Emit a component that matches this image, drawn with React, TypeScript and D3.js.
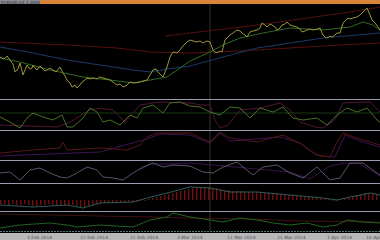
import React from "react";
import * as d3 from "d3";

const W = 380, H = 240;

// Main panel series: [bar, value]
const price: [number, number][] = [[0,42],[4,40],[7,43],[10,39],[13,35],[15,27],[18,30],[20,36],[23,24],[25,29],[27,34],[30,30],[32,31],[33,34],[35,31],[37,29],[40,33],[42,31],[45,28],[47,29],[50,31],[53,29],[56,27],[60,32],[63,26],[65,23],[67,19],[70,16],[72,12],[75,14],[77,11],[80,14],[82,17],[85,19],[87,21],[90,20],[93,21],[97,20],[100,22],[103,21],[107,20],[110,19],[113,17],[117,14],[120,15],[123,12],[127,14],[130,17],[135,16],[140,17],[143,18],[147,19],[150,24],[153,29],[156,30],[158,27],[160,25],[163,22],[167,32],[170,42],[173,47],[177,46],[180,49],[182,52],[185,55],[187,57],[190,59],[193,58],[197,57],[200,58],[203,56],[207,58],[210,57],[213,49],[215,47],[217,46],[220,48],[222,47],[225,59],[228,62],[230,64],[233,66],[237,69],[240,68],[242,66],[245,64],[247,62],[250,67],[253,68],[257,69],[260,71],[262,76],[265,74],[267,72],[270,75],[272,74],[275,72],[277,69],[280,71],[282,74],[285,75],[287,77],[290,74],[293,73],[297,72],[300,70],[302,67],[305,68],[307,69],[310,70],[313,69],[317,70],[320,71],[323,64],[325,62],[327,61],[330,63],[332,62],[335,64],[337,66],[340,66],[343,76],[345,78],[348,81],[350,80],[353,81],[357,82],[360,84],[362,86],[365,89],[367,91],[370,84],[372,79],[375,76],[378,72],[380,69]];
const maFast: [number, number][] = [[0,41],[20,37],[50,29],[83,22],[110,19],[133,16],[150,19],[167,22],[180,31],[190,38],[210,47],[223,54],[240,61],[263,66],[290,71],[323,69],[350,72],[363,77],[373,74],[380,69]];
const maSlow: [number, number][] = [[0,52],[33,46],[67,39],[100,34],[133,29],[150,27],[167,30],[190,33],[223,42],[257,51],[290,56],[323,61],[357,64],[380,66]];
const redMid: [number, number][] = [[0,57],[67,54],[117,51],[150,47],[190,46],[240,48],[290,51],[340,54],[380,56]];
const redUpper: [number, number][] = [[165,63],[190,66],[250,73],[300,80],[350,87],[380,92]];

// Panel 2
const osc1: [number, number][] = [[0,13],[10,8],[20,2],[27,12],[33,17],[43,13],[53,10],[62,15],[67,3],[73,3],[83,12],[90,22],[97,18],[103,8],[110,10],[120,5],[130,15],[137,12],[143,22],[153,25],[163,17],[170,27],[180,28],[190,24],[200,23],[210,18],[220,15],[230,23],[240,22],[250,12],[260,22],[273,18],[283,23],[293,12],[303,10],[317,12],[327,5],[337,15],[347,22],[357,18],[367,22],[377,10],[380,8]];
const osc2: [number, number][] = [[0,5],[30,4],[57,3],[70,8],[90,20],[100,22],[113,20],[125,8],[140,25],[160,28],[190,27],[200,25],[210,25],[215,10],[220,2],[228,5],[240,20],[260,22],[280,27],[290,20],[300,8],[315,3],[323,2],[335,10],[343,27],[360,28],[370,28],[380,18]];
const osc1Level = 17;

// Panel 3
const p3red: [number, number][] = [[0,8],[33,11],[60,13],[63,19],[67,11],[100,13],[127,11],[140,16],[147,24],[157,28],[190,28],[210,19],[220,29],[230,23],[257,19],[283,26],[303,16],[317,6],[330,4],[337,19],[343,28],[357,23],[380,16]];
const p3purple: [number, number][] = [[0,5],[100,9],[147,22],[160,27],[190,26],[210,18],[220,28],[230,20],[280,24],[300,18],[310,10],[320,5],[335,4],[345,26],[360,20],[380,14]];

// Panel 4
const p4grey: [number, number][] = [[0,11],[10,12],[20,4],[30,14],[40,16],[50,11],[60,7],[67,6],[77,11],[87,17],[97,14],[103,7],[113,6],[123,4],[133,11],[143,17],[153,21],[163,17],[173,19],[190,18],[203,12],[213,11],[223,17],[237,22],[253,9],[263,17],[277,19],[290,11],[303,6],[317,17],[330,4],[340,6],[350,21],[363,21],[377,11],[380,9]];
const p4purple: [number, number][] = [[140,14],[150,20],[165,20],[190,21],[290,12],[310,5],[330,18],[345,21],[360,20],[380,8]];

// Panel 5 (histogram every 4 bars)
const hist: number[] = [-4,-4,-5,-4,-5,-5,-4,-5,-6,-6,-5,-5,-4,-5,-5,-6,-6,-5,-5,-6,-7,-7,-6,-5,-4,-4,-3,-3,-3,-3,-3,-2,-2,-2,-2,-1,0,1,2,3,4,5,6,7,8,9,10,11,12,12,13,13,13,12,12,11,10,10,9,9,9,8,8,8,8,8,7,7,7,6,6,5,5,5,4,4,3,3,3,2,2,1,1,0,0,1,2,3,4,5,6,7,7,6,6,5];
const signal: [number, number][] = [[0,-5],[33,-7],[67,-5],[83,-8],[100,-3],[133,-2],[147,2],[167,7],[190,13],[210,12],[230,8],[257,8],[290,5],[323,2],[337,0],[350,3],[370,7],[380,5]];

// Panel 6
const p6green: [number, number][] = [[0,2],[20,5],[50,7],[67,5],[77,3],[100,5],[133,3],[150,10],[167,13],[173,17],[190,13],[210,10],[223,8],[240,12],[257,10],[273,7],[290,5],[307,7],[323,3],[337,5],[347,10],[363,8],[380,7]];
const p6red: [number, number][] = [[0,16],[50,15],[100,14],[150,13],[190,12],[250,11],[300,9],[380,8]];

const timeLabels = ["3 Feb 2014", "12 Feb 2014", "21 Feb 2014", "3 Mar 2014", "12 Mar 2014", "21 Mar 2014", "1 Apr 2014", "10 Apr"];
const timeLabelBars = [27, 80, 130, 177, 227, 277, 327, 366];

const x = d3.scaleLinear().domain([0, 380]).range([0, 380]);

function mk(domain: [number, number], range: [number, number]) {
  return d3.scaleLinear().domain(domain).range(range);
}

const yMain = mk([0, 95], [99, 4]);
const y2 = mk([0, 30], [130, 100]);
const y3 = mk([0, 30], [161, 131]);
const y4 = mk([0, 22], [184, 162]);
const y5 = mk([-10, 16], [210, 184]);
const y6 = mk([0, 18], [230, 212]);

function path(data: [number, number][], y: d3.ScaleLinear<number, number>) {
  return d3.line<[number, number]>().x(d => x(d[0])).y(d => y(d[1]))(data) || "";
}

const Line = ({ d, y, c, w = 1 }: any) => (
  <path d={path(d, y)} fill="none" stroke={c} strokeWidth={w} />
);

export default function App() {
  const sep = [99.5, 130.5, 160.5, 183.5, 211.5];
  return (
    <svg width={W} height={H} style={{ position: "absolute", left: 0, top: 0, background: "#000" }}>
      <rect x={0} y={0} width={W} height={H} fill="#000" />
      {/* top bar */}
      <rect x={0} y={0} width={W} height={4} fill="#d9823a" />
      <rect x={0} y={0} width={40} height={4} fill="#8c8c8c" />
      <text x={1} y={3.5} fontSize={4} fill="#303050" fontFamily="DejaVu Sans">EURUSD,H4 1.3809</text>

      {/* vertical marker */}
      <line x1={x(210)} x2={x(210)} y1={4} y2={231} stroke="#34342a" />

      {/* main panel */}
      <Line d={redMid} y={yMain} c="#561010" />
      <Line d={redUpper} y={yMain} c="#561010" />
      <Line d={maSlow} y={yMain} c="#1a3a68" />
      <Line d={maFast} y={yMain} c="#2f6a22" />
      <Line d={price} y={yMain} c="#9a963a" />

      {/* panel 2 */}
      <line x1={0} x2={W} y1={y2(osc1Level)} y2={y2(osc1Level)} stroke="#183a18" />
      <Line d={osc2} y={y2} c="#501632" />
      <Line d={osc1} y={y2} c="#4a7026" />

      {/* panel 3 */}
      <Line d={p3purple} y={y3} c="#3e1450" />
      <Line d={p3red} y={y3} c="#561616" />

      {/* panel 4 */}
      <Line d={p4purple} y={y4} c="#3a1448" />
      <Line d={p4grey} y={y4} c="#55556a" />

      {/* panel 5 */}
      {hist.map((v, i) => {
        const y0 = y5(0), y1 = y5(v);
        return <rect key={i} x={x(i * 4)} y={Math.min(y0, y1)} width={1.5} height={Math.max(1, Math.abs(y1 - y0))} fill="#6a1010" />;
      })}
      <Line d={signal} y={y5} c="#2e5a5a" />

      {/* panel 6 */}
      <Line d={p6red} y={y6} c="#3e1212" />
      <Line d={p6green} y={y6} c="#22621f" />

      {/* separators */}
      {sep.map((s, i) => (
        <line key={i} x1={0} x2={W} y1={s} y2={s} stroke="#9c9cac" />
      ))}

      {/* time axis */}
      <line x1={0} x2={W} y1={231.5} y2={231.5} stroke="#5a7a7a" strokeDasharray="2 1" />
      <rect x={0} y={233} width={W} height={7} fill="#b8b8b8" />
      {timeLabels.map((t, i) => (
        <text key={i} x={x(timeLabelBars[i])} y={238.5} fontSize={4.5} fill="#505060" fontFamily="DejaVu Sans">{t}</text>
      ))}
    </svg>
  );
}
